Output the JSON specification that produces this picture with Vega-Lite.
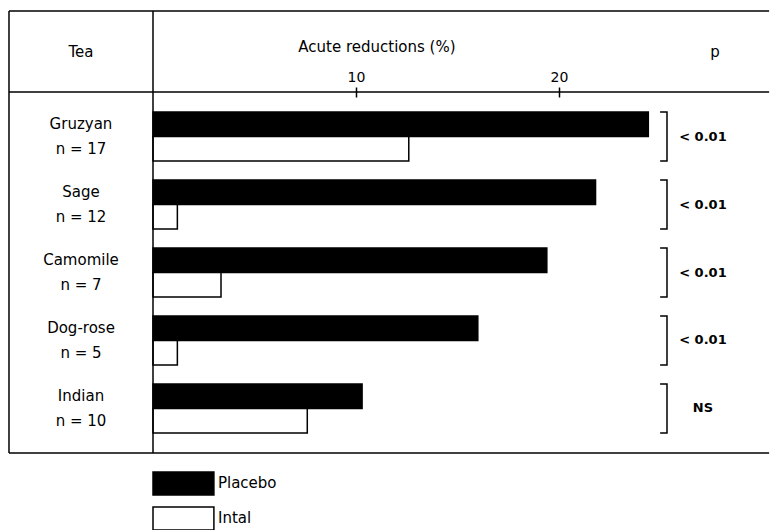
{
  "$schema": "https://vega.github.io/schema/vega-lite/v6.json",
  "padding": 0,
  "spacing": 0,
  "bounds": "flush",
  "background": "white",
  "config": {
    "view": {"stroke": null},
    "text": {"font": "DejaVu Sans", "fontSize": 15, "color": "black"},
    "rule": {"color": "black", "strokeWidth": 1.5}
  },
  "datasets": {
    "bars": [
      {"tea": "Gruzyan", "treatment": "Placebo", "value": 24.4},
      {"tea": "Gruzyan", "treatment": "Intal", "value": 12.6},
      {"tea": "Sage", "treatment": "Placebo", "value": 21.8},
      {"tea": "Sage", "treatment": "Intal", "value": 1.2},
      {"tea": "Camomile", "treatment": "Placebo", "value": 19.4},
      {"tea": "Camomile", "treatment": "Intal", "value": 3.35},
      {"tea": "Dog-rose", "treatment": "Placebo", "value": 16.0},
      {"tea": "Dog-rose", "treatment": "Intal", "value": 1.2},
      {"tea": "Indian", "treatment": "Placebo", "value": 10.3},
      {"tea": "Indian", "treatment": "Intal", "value": 7.6}
    ],
    "teas": [
      {"tea": "Gruzyan", "n_text": "n = 17", "p": "< 0.01"},
      {"tea": "Sage", "n_text": "n = 12", "p": "< 0.01"},
      {"tea": "Camomile", "n_text": "n = 7", "p": "< 0.01"},
      {"tea": "Dog-rose", "n_text": "n = 5", "p": "< 0.01"},
      {"tea": "Indian", "n_text": "n = 10", "p": "NS"}
    ],
    "legend": [
      {"treatment": "Placebo"},
      {"treatment": "Intal"}
    ]
  },
  "vconcat": [
    {
      "width": 770,
      "height": 92,
      "data": {"values": [{}]},
      "layer": [
        {
          "mark": {"type": "rule"},
          "encoding": {
            "x": {"datum": -7.094, "type": "quantitative", "scale": {"domain": [-7.537, 30.394], "nice": false, "zero": false}, "axis": null},
            "x2": {"datum": 30.35},
            "y": {"datum": 11, "type": "quantitative", "scale": {"domain": [0, 92], "reverse": true, "nice": false, "zero": false}, "axis": null}
          }
        },
        {
          "mark": {"type": "rule"},
          "encoding": {
            "x": {"datum": -7.094, "type": "quantitative"},
            "y": {"datum": 11, "type": "quantitative"},
            "y2": {"datum": 92}
          }
        },
        {
          "mark": {"type": "rule"},
          "encoding": {
            "x": {"datum": 0, "type": "quantitative"},
            "y": {"datum": 11, "type": "quantitative"},
            "y2": {"datum": 92}
          }
        },
        {
          "mark": {"type": "text", "align": "center", "baseline": "middle", "text": "Tea"},
          "encoding": {
            "x": {"datum": -3.547, "type": "quantitative"},
            "y": {"datum": 52, "type": "quantitative"}
          }
        },
        {
          "mark": {"type": "text", "align": "center", "baseline": "middle", "text": "Acute reductions (%)"},
          "encoding": {
            "x": {"datum": 11.03, "type": "quantitative"},
            "y": {"datum": 47, "type": "quantitative"}
          }
        },
        {
          "mark": {"type": "text", "align": "center", "baseline": "middle", "text": "p"},
          "encoding": {
            "x": {"datum": 27.68, "type": "quantitative"},
            "y": {"datum": 52, "type": "quantitative"}
          }
        }
      ]
    },
    {
      "width": 770,
      "height": 361,
      "layer": [
        {
          "data": {"name": "bars"},
          "mark": {"type": "bar", "stroke": "black", "strokeWidth": 1.5, "cornerRadius": 0},
          "encoding": {
            "x": {
              "field": "value", "type": "quantitative",
              "scale": {"domain": [-7.537, 30.394], "nice": false, "zero": false},
              "axis": {
                "orient": "top", "values": [10, 20], "domain": false, "grid": false,
                "tickSize": 10, "offset": -5, "tickColor": "black", "tickWidth": 1.5,
                "labelFont": "DejaVu Sans", "labelFontSize": 14, "labelColor": "black",
                "labelPadding": 3, "title": null
              }
            },
            "x2": {"datum": 0},
            "y": {
              "field": "tea", "type": "nominal",
              "scale": {"domain": ["Gruzyan", "Sage", "Camomile", "Dog-rose", "Indian"], "paddingInner": 0.279, "paddingOuter": 0.294},
              "axis": null
            },
            "yOffset": {
              "field": "treatment", "type": "nominal",
              "scale": {"domain": ["Placebo", "Intal"], "paddingInner": 0, "paddingOuter": 0}
            },
            "fill": {
              "field": "treatment", "type": "nominal",
              "scale": {"domain": ["Placebo", "Intal"], "range": ["black", "white"]},
              "legend": null
            }
          }
        },
        {
          "data": {"values": [{}]},
          "mark": {"type": "rule"},
          "encoding": {"x": {"datum": -7.094, "type": "quantitative"}}
        },
        {
          "data": {"values": [{}]},
          "mark": {"type": "rule"},
          "encoding": {"x": {"datum": 0, "type": "quantitative"}}
        },
        {
          "data": {"values": [{}]},
          "mark": {"type": "rule"},
          "encoding": {
            "x": {"datum": -7.094, "type": "quantitative"},
            "x2": {"datum": 30.35},
            "y": {"value": 0}
          }
        },
        {
          "data": {"values": [{}]},
          "mark": {"type": "rule"},
          "encoding": {
            "x": {"datum": -7.094, "type": "quantitative"},
            "x2": {"datum": 30.35},
            "y": {"value": "height"}
          }
        },
        {
          "data": {"name": "teas"},
          "mark": {"type": "text", "align": "center", "baseline": "middle", "dy": -12.5},
          "encoding": {
            "x": {"datum": -3.547, "type": "quantitative"},
            "y": {"field": "tea", "type": "nominal"},
            "text": {"field": "tea"}
          }
        },
        {
          "data": {"name": "teas"},
          "mark": {"type": "text", "align": "center", "baseline": "middle", "dy": 12.5},
          "encoding": {
            "x": {"datum": -3.547, "type": "quantitative"},
            "y": {"field": "tea", "type": "nominal"},
            "text": {"field": "n_text"}
          }
        },
        {
          "data": {"name": "teas"},
          "mark": {"type": "text", "align": "center", "baseline": "middle", "fontWeight": "bold", "fontSize": 13},
          "encoding": {
            "x": {"datum": 27.09, "type": "quantitative"},
            "y": {"field": "tea", "type": "nominal"},
            "text": {"field": "p"}
          }
        },
        {
          "data": {"name": "teas"},
          "mark": {"type": "rect", "fill": "white", "fillOpacity": 0, "stroke": "black", "strokeWidth": 1.5, "strokeDash": [62.8, 49.1]},
          "encoding": {
            "x": {"datum": 24.98, "type": "quantitative"},
            "x2": {"datum": 25.32},
            "y": {"field": "tea", "type": "nominal"}
          }
        }
      ]
    },
    {
      "width": 770,
      "height": 77,
      "data": {"name": "legend"},
      "layer": [
        {
          "mark": {"type": "rect", "stroke": "black", "strokeWidth": 1.5, "clip": true},
          "encoding": {
            "x": {"datum": 0, "type": "quantitative", "scale": {"domain": [-7.537, 30.394], "nice": false, "zero": false}, "axis": null},
            "x2": {"datum": 3.0},
            "y": {
              "field": "treatment", "type": "nominal",
              "scale": {"domain": ["Placebo", "Intal"], "paddingInner": 0.34, "paddingOuter": 0.27, "align": 1},
              "axis": null
            },
            "fill": {
              "field": "treatment", "type": "nominal",
              "scale": {"domain": ["Placebo", "Intal"], "range": ["black", "white"]},
              "legend": null
            }
          }
        },
        {
          "mark": {"type": "text", "align": "left", "baseline": "middle"},
          "encoding": {
            "x": {"datum": 3.2, "type": "quantitative"},
            "y": {"field": "treatment", "type": "nominal"},
            "text": {"field": "treatment"}
          }
        }
      ]
    }
  ]
}
